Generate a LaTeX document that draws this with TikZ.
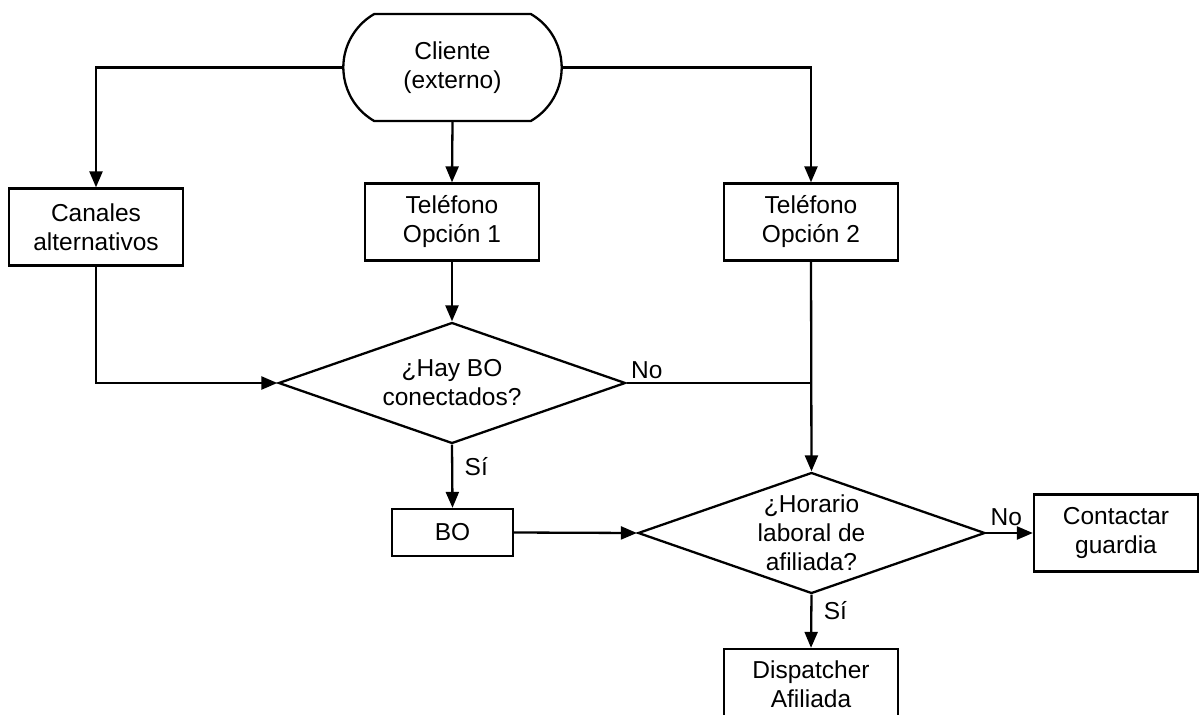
\documentclass[tikz,border=0pt]{standalone}
\usepackage{fontspec}
\setmainfont{Liberation Sans}
\usetikzlibrary{arrows.meta,shapes.geometric,shapes.misc}

\begin{document}
\begin{tikzpicture}[x=1pt,y=-1pt,line width=2.3pt,
    every node/.style={font=\fontsize{24.5}{29}\selectfont},
    terminal/.style={draw,rounded rectangle,rounded rectangle arc length=120,minimum width=225pt,minimum height=107pt,align=center},
    caja/.style={draw,rectangle,minimum width=174pt,minimum height=77pt,align=center,inner sep=0pt},
    decision/.style={draw,diamond,minimum width=347pt,minimum height=121pt,inner sep=0pt},
    flecha/.style={-{Triangle[length=16pt,width=13pt]}}]
            \useasboundingbox (0,0) rectangle (1203,715);
            \node[terminal] (cliente) at (452.5,67.5) {Cliente\\(externo)};
            \node[caja] (canales) at (96,227) {Canales\\alternativos};
            \node[caja] (tel1) at (452,222) {Teléfono\\Opción 1};
            \node[caja] (tel2) at (811,222) {Teléfono\\Opción 2};
            \node[decision,label={[align=center]center:¿Hay BO\\conectados?}] (hay) at (452,383) {};
            \node[caja,minimum width=121pt,minimum height=47pt] (bo) at (452.5,532.5) {BO};
            \node[decision,label={[align=center]center:¿Horario\\laboral de\\afiliada?}] (horario) at (811.5,533) {};
            \node[caja,minimum width=164pt] (guardia) at (1116,533) {Contactar\\guardia};
            \node[caja,minimum height=70pt] (dispatcher) at (811,684) {Dispatcher\\Afiliada};
            \draw[flecha] (cliente.west) -| (canales.north);
            \draw[flecha] (cliente.south) -- (tel1.north);
            \draw[flecha] (cliente.east) -| (tel2.north);
            \draw[flecha] (tel1.south) -- (hay.north);
            \draw[flecha] (canales.south) |- (hay.west);
            \coordinate (union) at (tel2.south |- hay.east);
            \draw (hay.east) -- node[pos=0,above right]{No} (union);
            \draw[flecha] (tel2.south) -- (horario.north);
            \draw[flecha] (hay.south) -- node[pos=0.35,right,xshift=8pt]{Sí} (bo.north);
            \draw[flecha] (bo.east) -- (horario.west);
            \draw[flecha] (horario.east) -- node[pos=0,above right,yshift=3pt]{No} (guardia.west);
            \draw[flecha] (horario.south) -- node[pos=0.3,right,xshift=8pt]{Sí} (dispatcher.north);
        \end{tikzpicture}
\end{document}
